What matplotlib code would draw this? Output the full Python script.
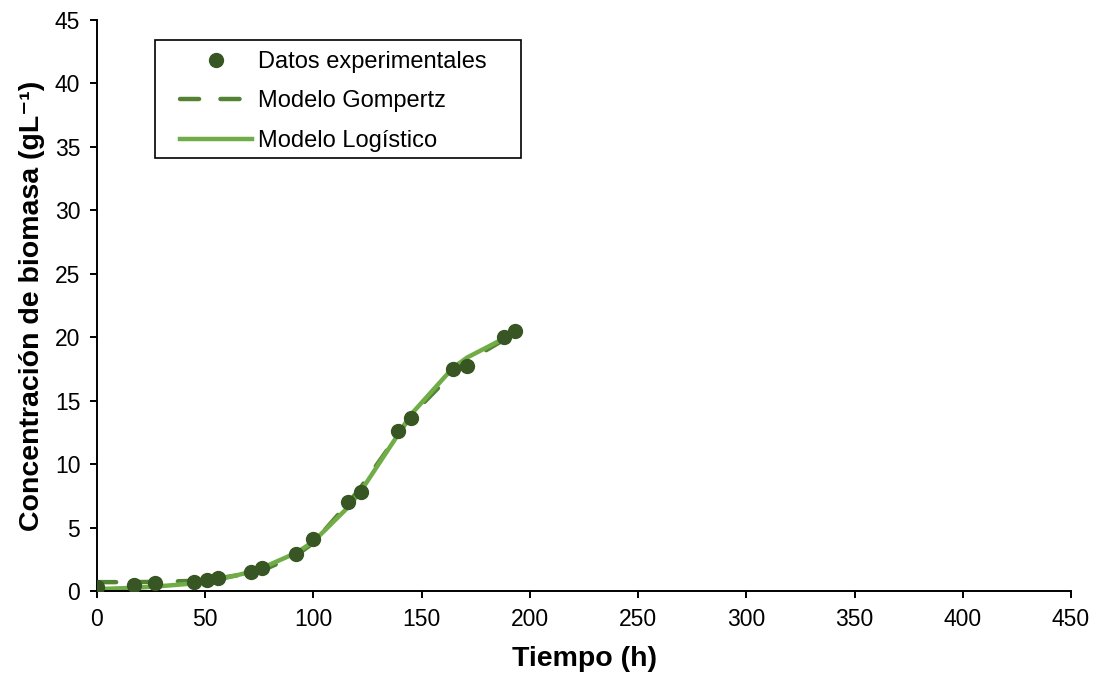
import matplotlib
matplotlib.use("Agg")
import matplotlib.pyplot as plt
from matplotlib.patches import Rectangle

plt.rcParams['font.family'] = ['Liberation Sans', 'DejaVu Sans']

# tiempo (h) de las muestras
tiempo = [0, 17, 27, 45, 51, 56, 71, 76, 92, 100, 116, 122, 139, 145, 164.5, 171, 188, 193]
# biomasa medida (g/L)
datos = [0.3, 0.45, 0.65, 0.7, 0.85, 1.0, 1.5, 1.8, 2.9, 4.1, 7.0, 7.8, 12.6, 13.6, 17.5, 17.7, 20.0, 20.5]
# modelos evaluados en los mismos tiempos
gompertz = [0.7, 0.7, 0.72, 0.8, 0.9, 1.0, 1.4, 1.6, 2.8, 3.8, 6.9, 8.2, 12.3, 13.8, 17.2, 18.1, 19.8, 20.3]
logistico = [0.15, 0.25, 0.35, 0.6, 0.75, 0.9, 1.5, 1.8, 3.0, 3.9, 6.6, 7.9, 12.3, 13.9, 17.6, 18.4, 19.9, 20.3]

fig = plt.figure(figsize=(11.01, 6.79), dpi=100)
ax = fig.add_axes([0.0881, 0.1296, 0.8847, 0.8409])

ax.plot(tiempo, datos, 'o', color='#375623', markersize=10, label='Datos experimentales', zorder=3)
ax.plot(tiempo, gompertz, color='#548235', lw=3.2, dashes=(4.3, 4.8), dash_capstyle='round',
        label='Modelo Gompertz')
ax.plot(tiempo, logistico, color='#70AD47', lw=3.2, label='Modelo Logístico')

ax.set_xlim(0, 450)
ax.set_ylim(0, 45)
ax.set_xticks(range(0, 451, 50))
ax.set_yticks(range(0, 46, 5))

ax.spines['top'].set_visible(False)
ax.spines['right'].set_visible(False)
ax.spines['left'].set_linewidth(1.4)
ax.spines['bottom'].set_linewidth(1.4)
ax.tick_params(axis='both', labelsize=16.5, direction='out', length=5, width=1.4, pad=7)

ax.set_xlabel('Tiempo (h)', fontsize=20.5, fontweight='bold', labelpad=11)
ax.set_ylabel('Concentración de biomasa (gL⁻¹)', fontsize=20.5, fontweight='bold', labelpad=7)

# legend without its own frame, box drawn separately (Excel style padding)
leg = fig.legend(loc='upper left', bbox_to_anchor=(180 / 1101, 1 - 51 / 679), borderaxespad=0,
                 fontsize=17, frameon=False, handlelength=3.05,
                 labelspacing=0.74, borderpad=0, handletextpad=0.25)
fig.patches.append(Rectangle((155 / 1101, 1 - 158 / 679), 366 / 1101, 118 / 679,
                             transform=fig.transFigure, fill=False, edgecolor='black', lw=1.2))

fig.savefig('out.png', dpi=100)
